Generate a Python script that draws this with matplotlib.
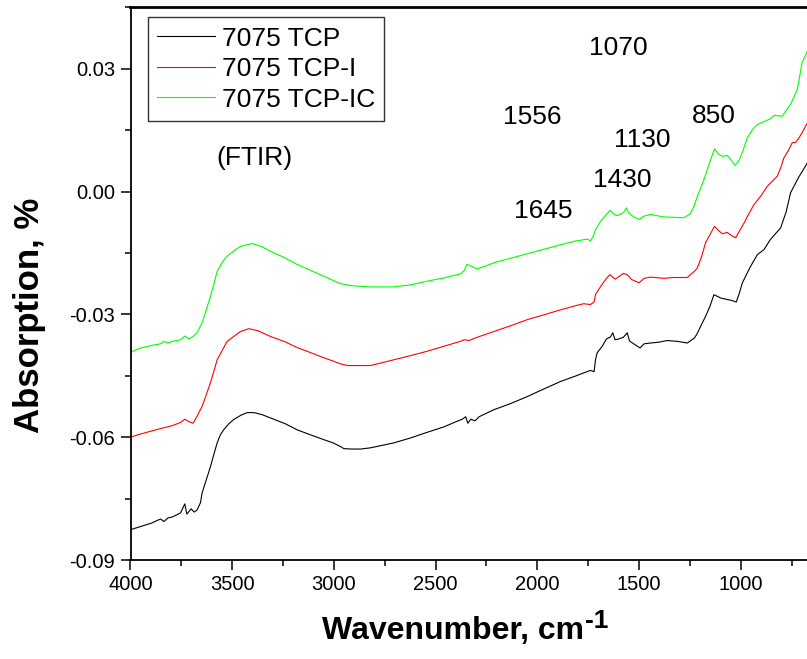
import matplotlib.pyplot as plt
from matplotlib.ticker import MultipleLocator, FuncFormatter

plt.rcParams['font.family'] = ['Liberation Sans', 'DejaVu Sans']

# 7075 TCP (black)
w_tcp = [4000, 3949, 3897, 3867, 3852, 3836, 3815, 3795, 3774, 3754, 3733, 3723, 3702, 3687,
         3673, 3656, 3648, 3628, 3607, 3589, 3574, 3559, 3542, 3518, 3493, 3456, 3426, 3393,
         3353, 3312, 3240, 3181, 3117, 3050, 3004, 2967, 2951, 2912, 2869, 2820, 2706, 2624,
         2541, 2460, 2399, 2368, 2352, 2342, 2327, 2306, 2286, 2214, 2132, 2050, 1967, 1886,
         1814, 1772, 1739, 1721, 1714, 1706, 1681, 1660, 1640, 1629, 1618, 1599, 1577, 1558,
         1547, 1526, 1495, 1475, 1444, 1403, 1362, 1310, 1263, 1228, 1214, 1193, 1173, 1151,
         1132, 1115, 1099, 1064, 1044, 1022, 1008, 992, 952, 918, 886, 854, 804, 777, 755,
         715, 672, 643]
a_tcp = [-0.0826, -0.0818, -0.0810, -0.0803, -0.0800, -0.0806, -0.0797, -0.0795, -0.0790,
         -0.0785, -0.0763, -0.0788, -0.0775, -0.0783, -0.0778, -0.0760, -0.0736, -0.0705,
         -0.0672, -0.0640, -0.0614, -0.0595, -0.0582, -0.0568, -0.0557, -0.0546, -0.0540,
         -0.0540, -0.0545, -0.0553, -0.0567, -0.0582, -0.0594, -0.0606, -0.0614, -0.0623,
         -0.0628, -0.0629, -0.0629, -0.0626, -0.0614, -0.0602, -0.0588, -0.0575, -0.0562,
         -0.0556, -0.0550, -0.0566, -0.0556, -0.0560, -0.0550, -0.0533, -0.0518, -0.0501,
         -0.0482, -0.0464, -0.0451, -0.0443, -0.0437, -0.0440, -0.0411, -0.0394, -0.0378,
         -0.0360, -0.0355, -0.0345, -0.0362, -0.0360, -0.0356, -0.0345, -0.0365, -0.0372,
         -0.0382, -0.0372, -0.0370, -0.0368, -0.0364, -0.0366, -0.0370, -0.0358, -0.0347,
         -0.0325, -0.0305, -0.0280, -0.0252, -0.0256, -0.0260, -0.0264, -0.0266, -0.0270,
         -0.0250, -0.0223, -0.0183, -0.0154, -0.0142, -0.0117, -0.0089, -0.0050, -0.0003,
         0.0035, 0.0070, 0.0090]

# 7075 TCP-I (red)
w_tcpi = [4000, 3949, 3897, 3852, 3795, 3754, 3733, 3713, 3692, 3673, 3648, 3628, 3607, 3589,
          3574, 3548, 3525, 3487, 3459, 3418, 3374, 3312, 3240, 3181, 3117, 3050, 3004, 2967,
          2932, 2869, 2820, 2706, 2624, 2541, 2460, 2378, 2358, 2337, 2296, 2214, 2132, 2050,
          1967, 1886, 1814, 1772, 1739, 1721, 1714, 1689, 1660, 1643, 1618, 1599, 1577, 1558,
          1536, 1500, 1475, 1444, 1378, 1331, 1263, 1228, 1214, 1193, 1173, 1151, 1129, 1110,
          1091, 1066, 1044, 1025, 1008, 984, 961, 935, 900, 869, 821, 802, 788, 766, 747,
          730, 715, 698, 672, 643]
a_tcpi = [-0.0600, -0.0592, -0.0585, -0.0579, -0.0572, -0.0564, -0.0556, -0.0562, -0.0566,
          -0.0549, -0.0525, -0.0497, -0.0467, -0.0437, -0.0411, -0.0387, -0.0366, -0.0352,
          -0.0342, -0.0335, -0.0340, -0.0354, -0.0367, -0.0381, -0.0393, -0.0406, -0.0414,
          -0.0421, -0.0425, -0.0425, -0.0425, -0.0411, -0.0401, -0.0390, -0.0378, -0.0366,
          -0.0362, -0.0364, -0.0356, -0.0342, -0.0328, -0.0313, -0.0301, -0.0289, -0.0279,
          -0.0274, -0.0276, -0.0270, -0.0252, -0.0232, -0.0212, -0.0203, -0.0214, -0.0208,
          -0.0200, -0.0203, -0.0215, -0.0223, -0.0212, -0.0209, -0.0212, -0.0210, -0.0210,
          -0.0195, -0.0187, -0.0160, -0.0125, -0.0105, -0.0085, -0.0095, -0.0103, -0.0100,
          -0.0108, -0.0113, -0.0098, -0.0077, -0.0055, -0.0032, -0.0010, 0.0013, 0.0037,
          0.0060, 0.0082, 0.0100, 0.0119, 0.0120, 0.0130, 0.0144, 0.0168, 0.0185]

# 7075 TCP-IC (green)
w_tcpic = [4000, 3949, 3897, 3852, 3836, 3815, 3795, 3754, 3733, 3713, 3692, 3673, 3648, 3628,
           3607, 3589, 3574, 3548, 3525, 3487, 3459, 3401, 3353, 3312, 3240, 3181, 3117, 3050,
           3004, 2967, 2912, 2820, 2706, 2624, 2541, 2460, 2378, 2358, 2347, 2327, 2296, 2255,
           2214, 2132, 2050, 1967, 1886, 1814, 1788, 1752, 1739, 1726, 1714, 1689, 1665, 1643,
           1624, 1607, 1577, 1562, 1552, 1526, 1500, 1475, 1444, 1378, 1331, 1280, 1249, 1230,
           1208, 1181, 1148, 1129, 1110, 1091, 1066, 1044, 1028, 1013, 1000, 982, 968, 941,
           918, 879, 854, 836, 796, 777, 755, 722, 698, 672, 643]
a_tcpic = [-0.0392, -0.0382, -0.0376, -0.0372, -0.0366, -0.0370, -0.0366, -0.0362, -0.0353,
           -0.0360, -0.0354, -0.0345, -0.0321, -0.0290, -0.0256, -0.0224, -0.0195, -0.0172,
           -0.0158, -0.0143, -0.0134, -0.0127, -0.0135, -0.0146, -0.0162, -0.0178, -0.0192,
           -0.0207, -0.0217, -0.0225, -0.0230, -0.0233, -0.0233, -0.0228, -0.0219, -0.0211,
           -0.0201, -0.0192, -0.0178, -0.0182, -0.0189, -0.0182, -0.0174, -0.0163, -0.0152,
           -0.0141, -0.0130, -0.0121, -0.0119, -0.0116, -0.0121, -0.0110, -0.0093, -0.0073,
           -0.0058, -0.0046, -0.0055, -0.0059, -0.0052, -0.0040, -0.0052, -0.0062, -0.0068,
           -0.0060, -0.0056, -0.0062, -0.0063, -0.0064, -0.0055, -0.0036, -0.0005, 0.0029,
           0.0078, 0.0104, 0.0092, 0.0086, 0.0088, 0.0075, 0.0064, 0.0072, 0.0086, 0.0110,
           0.0131, 0.0152, 0.0164, 0.0172, 0.0178, 0.0186, 0.0184, 0.0198, 0.0213, 0.0249,
           0.0315, 0.0343, 0.0370]

labels = ['7075 TCP', '7075 TCP-I', '7075 TCP-IC']
peaks = ['1070', '1556', '850', '1130', '1430', '1645']

W, H = 807, 659
fig = plt.figure(figsize=(W / 100, H / 100), dpi=100)
# the axes runs past the right edge of the picture, as in the reference
ax = fig.add_axes([130.5 / W, 1 - 560 / H, 691.6 / W, 552.7 / H])

ax.plot(w_tcp, a_tcp, color='black', lw=0.8, label=labels[0])
ax.plot(w_tcpi, a_tcpi, color='#ff0000', lw=0.8, label=labels[1])
ax.plot(w_tcpic, a_tcpic, color='#00ff00', lw=0.8, label=labels[2])

ax.set_xlim(4000, 600)
ax.set_ylim(-0.09, 0.045)
ax.xaxis.set_major_locator(MultipleLocator(500))
ax.xaxis.set_minor_locator(MultipleLocator(250))
ax.yaxis.set_major_locator(MultipleLocator(0.03))
ax.yaxis.set_minor_locator(MultipleLocator(0.015))
ax.yaxis.set_major_formatter(FuncFormatter(lambda v, p: '%.2f' % (0 if abs(v) < 1e-9 else v)))
ax.tick_params(which='major', direction='out', length=7, width=1.1, labelsize=14.5, pad=4)
ax.tick_params(which='minor', direction='out', length=4, width=1.1)
for s in ax.spines.values():
    s.set_linewidth(1.3)
ax.spines['top'].set_linewidth(2)

leg = ax.legend(loc='upper left', bbox_to_anchor=(17.5 / 691.6, 1 - 10 / 552.7), fontsize=19,
                frameon=True, fancybox=False, shadow=False, edgecolor='black',
                handlelength=2.2, handletextpad=0.25, labelspacing=0.25, borderpad=0.35,
                borderaxespad=0)
leg.get_frame().set_linewidth(1.0)

pos = [(618, 48), (532, 117), (714, 116), (642, 140), (622, 180), (543, 211)]
for t, (px, py) in zip(peaks, pos):
    fig.text(px / W, 1 - py / H, t, fontsize=19, ha='center', va='center')
fig.text(254 / W, 1 - 158 / H, '(FTIR)', fontsize=19, ha='center', va='center')

fig.text(453 / W, 1 - 631 / H, 'Wavenumber, cm', fontsize=23,
         fontweight='bold', ha='center', va='center')
fig.text(585 / W, 1 - 621 / H, '-1', fontsize=19, fontweight='bold', ha='left', va='center')
fig.text(29 / W, 1 - 315 / H, 'Absorption, %', fontsize=25, fontweight='bold',
         rotation=90, ha='center', va='center')

fig.savefig('out.png', dpi=100)
